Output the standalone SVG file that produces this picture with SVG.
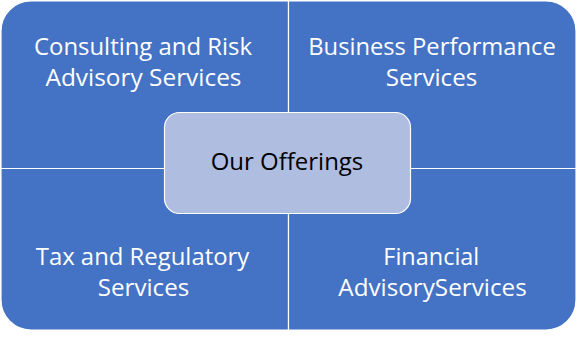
<svg xmlns="http://www.w3.org/2000/svg" width="582" height="337" viewBox="0 0 582 337">
<style>
.q{fill:#4472C4;stroke:#FFFFFF;stroke-width:1.2}
.c{fill:#AFBDE0;stroke:#FFFFFF;stroke-width:1.2}
.t{font-family:"Open Sans","Liberation Sans",sans-serif;font-size:24.5px;text-anchor:middle}
.w{fill:#FFFFFF}
.k{fill:#000000}
</style>
<rect width="582" height="337" fill="#FFFFFF"/>
<g id="node-consulting">
<path class="q" d="M1,168.5 V31 A30,30 0 0 1 31,1 H288.5 V168.5 Z"/>
<text class="t w" x="143" y="54.5" textLength="218" lengthAdjust="spacingAndGlyphs">Consulting and Risk</text>
<text class="t w" x="143.5" y="85.5" textLength="196" lengthAdjust="spacingAndGlyphs">Advisory Services</text>
</g>
<g id="node-business">
<path class="q" d="M288.5,1 H546 A30,30 0 0 1 576,31 V168.5 H288.5 Z"/>
<text class="t w" x="432" y="54.5" textLength="247.5" lengthAdjust="spacingAndGlyphs">Business Performance</text>
<text class="t w" x="431.5" y="85.5" textLength="91.5" lengthAdjust="spacingAndGlyphs">Services</text>
</g>
<g id="node-tax">
<path class="q" d="M1,168.5 H288.5 V330 H31 A30,30 0 0 1 1,300 Z"/>
<text class="t w" x="142.5" y="264.5" textLength="213.5" lengthAdjust="spacingAndGlyphs">Tax and Regulatory</text>
<text class="t w" x="143.5" y="295.5" textLength="91.5" lengthAdjust="spacingAndGlyphs">Services</text>
</g>
<g id="node-financial">
<path class="q" d="M288.5,168.5 H576 V300 A30,30 0 0 1 546,330 H288.5 Z"/>
<text class="t w" x="431.3" y="264.5" textLength="96" lengthAdjust="spacingAndGlyphs">Financial</text>
<text class="t w" x="432.5" y="295.5" textLength="188.4" lengthAdjust="spacingAndGlyphs">AdvisoryServices</text>
</g>
<g id="connectors"></g>
<g id="node-center">
<rect class="c" x="164.5" y="112.5" width="246" height="101" rx="15" ry="15"/>
<text class="t k" x="287" y="170" textLength="152.6" lengthAdjust="spacingAndGlyphs">Our Offerings</text>
</g>
</svg>
